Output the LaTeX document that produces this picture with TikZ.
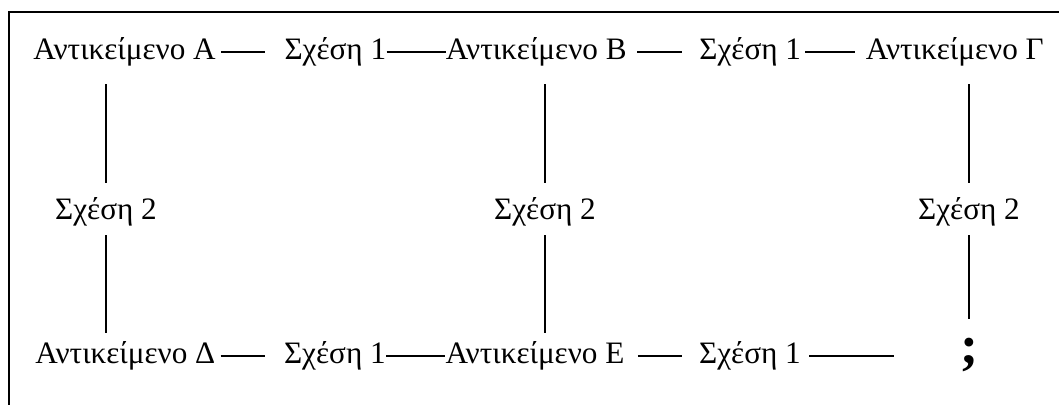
\documentclass[tikz,border=0pt]{standalone}
\usepackage{fontspec}
\setmainfont{Liberation Serif}
\usetikzlibrary{positioning}

\begin{document}
\begin{tikzpicture}[
    node distance=35pt,
    obj/.style={inner sep=0pt, font=\fontsize{15.6pt}{18pt}\selectfont, text height=11pt, text depth=3pt},
    rel/.style={obj},
    quest/.style={inner sep=0pt, font=\fontsize{27pt}{30pt}\selectfont\bfseries},
    link/.style={line width=0.55pt},
    frame/.style={line width=0.75pt}
]
    \useasboundingbox (0pt,0pt) rectangle (529.5pt,-202.5pt);

    % Πλαίσιο (κομμένο δεξιά και κάτω)
    \draw[frame] (4.5pt,-202.5pt) |- (529.5pt,-6pt);

    % Πάνω σειρά
    \node[obj, anchor=base west] (objA) at (16.5pt,-30pt) {Αντικείμενο Α};
    \node[rel, right=34pt of objA] (relA) {Σχέση 1};
    \node[obj, right=29.5pt of relA] (objB) {Αντικείμενο Β};
    \node[rel, right=36pt of objB] (relB) {Σχέση 1};
    \node[obj, right=32pt of relB] (objC) {Αντικείμενο Γ};

    % Μεσαία σειρά
    \node[rel, anchor=base] (midA) at (53pt,-110pt) {Σχέση 2};
    \node[rel, anchor=base] (midB) at (272.5pt,-110pt) {Σχέση 2};
    \node[rel, anchor=base] (midC) at (484.5pt,-110pt) {Σχέση 2};

    % Κάτω σειρά
    \node[obj, anchor=base west] (objD) at (17.5pt,-182pt) {Αντικείμενο Δ};
    \node[rel, right=34pt of objD] (relD) {Σχέση 1};
    \node[obj, right=29.5pt of relD] (objE) {Αντικείμενο Ε};
    \node[rel, right=37pt of objE] (relE) {Σχέση 1};
    \node[quest, anchor=base] (qmark) at (midC |- relE.base) {;};

    % Οριζόντιες συνδέσεις
    \draw[link, shorten <=2.5pt, shorten >=9.5pt] (objA) -- (relA);
    \draw[link] (relA) -- (objB);
    \draw[link, shorten <=5pt, shorten >=8.5pt] (objB) -- (relB);
    \draw[link, shorten <=2pt, shorten >=5pt] (relB) -- (objC);
    \draw[link, shorten <=2.5pt, shorten >=9.5pt] (objD) -- (relD);
    \draw[link] (relD) -- (objE);
    \draw[link, shorten <=6.5pt, shorten >=8.5pt] (objE) -- (relE);
    \draw[link, shorten <=4pt, shorten >=33pt] (relE.east) -- (relE.east -| qmark.west);

    % Κατακόρυφες συνδέσεις
    \draw[link, shorten <=9pt, shorten >=7.5pt] (objA.south -| midA) -- (midA);
    \draw[link, shorten <=4.5pt, shorten >=4.5pt] (midA) -- (objD.north -| midA);
    \draw[link, shorten <=9pt, shorten >=7.5pt] (objB.south -| midB) -- (midB);
    \draw[link, shorten <=4.5pt, shorten >=4.5pt] (midB) -- (objE.north -| midB);
    \draw[link, shorten <=9pt, shorten >=7.5pt] (objC.south -| midC) -- (midC);
    \draw[link, shorten <=4.5pt, shorten >=9.5pt] (midC) -- (qmark);

\end{tikzpicture}
\end{document}
